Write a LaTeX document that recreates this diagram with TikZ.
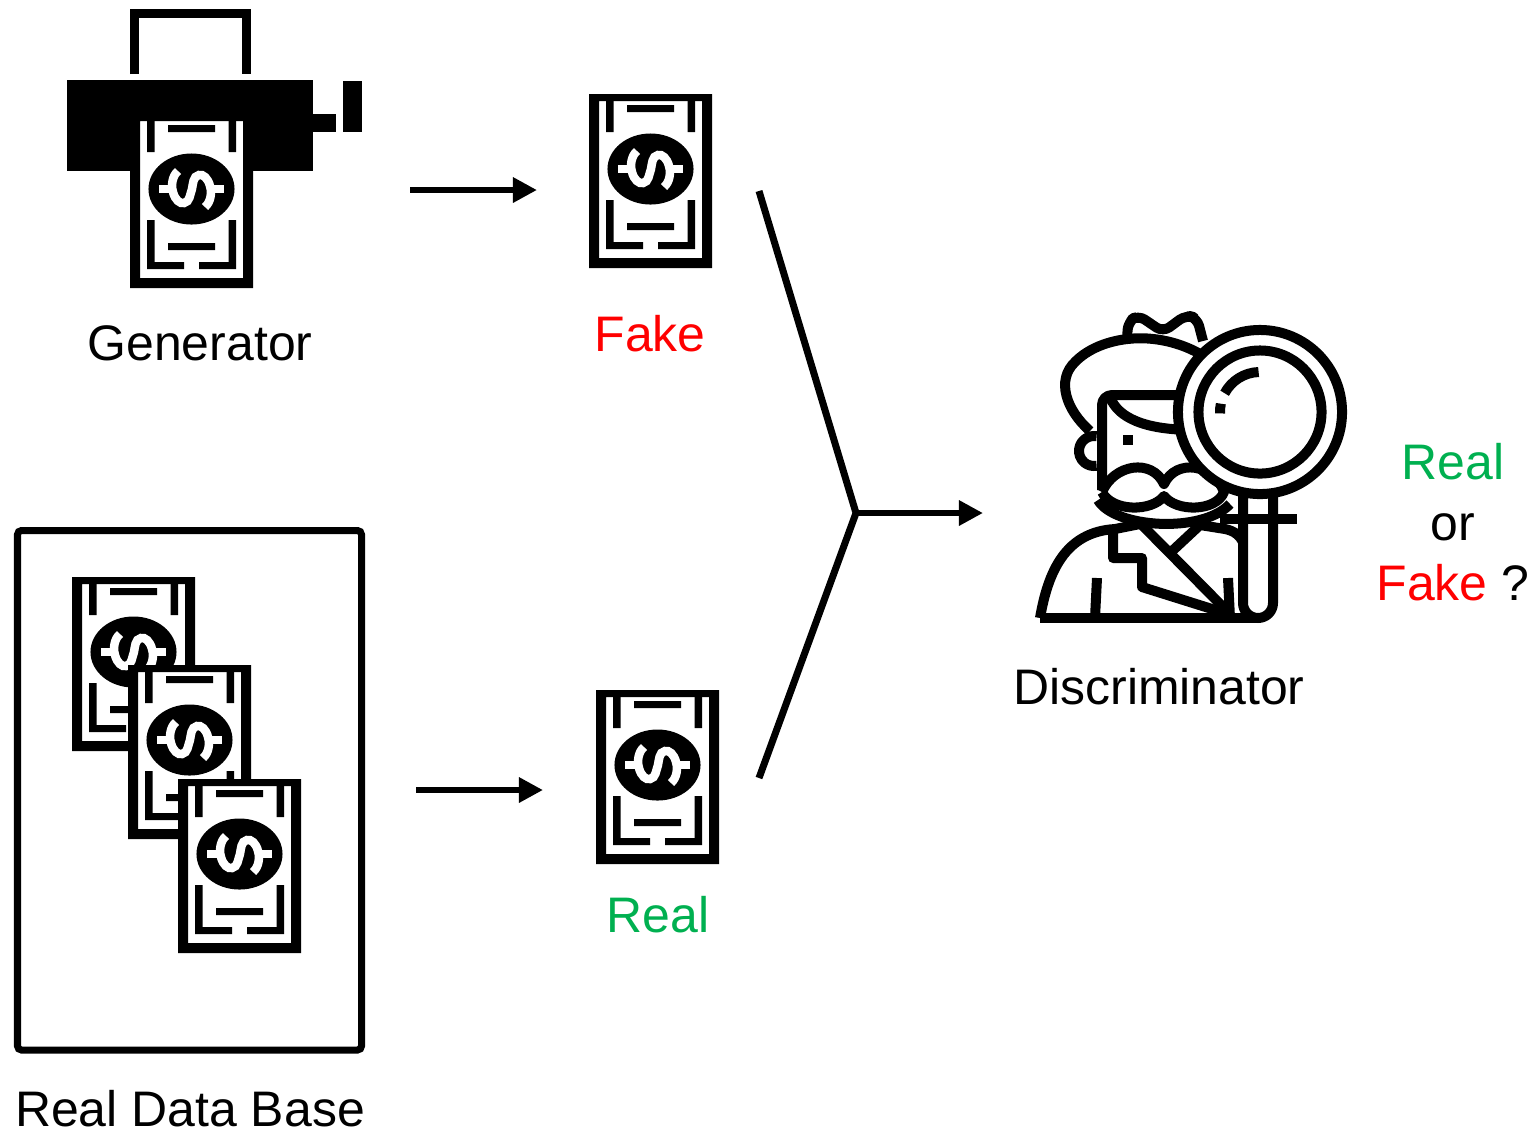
\documentclass[tikz,border=0pt]{standalone}
\usepackage{fontspec}
\setmainfont{Liberation Sans}
\usetikzlibrary{arrows.meta}

\definecolor{realgreen}{RGB}{0,176,80}
\definecolor{fakered}{RGB}{255,0,0}

\begin{document}
\begin{tikzpicture}[x=0.01cm, y=-0.01cm, >={Triangle[length=2.4mm,width=2.4mm]},
    lbl/.style={font=\fontsize{14.2}{17}\selectfont, inner sep=0pt, anchor=base},
    flow/.style={->, line width=0.65mm},
    icon/.style={line width=1mm, line cap=butt, line join=round},
    bill/.pic={
      \fill[white] (0,0) rectangle (123,174);
      \fill[even odd rule] (0,0) rectangle (123,174) (10,7) rectangle (113,164);
      \fill (17,7) rectangle (24.5,38) (98.5,7) rectangle (106,38);
      \fill (17,106) -- (17,155) -- (54,155) -- (54,148) -- (24.5,148) -- (24.5,106) -- cycle;
      \fill (106,106) -- (106,155) -- (69,155) -- (69,148) -- (98.5,148) -- (98.5,106) -- cycle;
      \fill (38,11) rectangle (85,18) (38,129) rectangle (85,136);
      \fill (61.5,75) ellipse [x radius=4.3mm, y radius=3.55mm];
      \draw[white, line width=0.85mm] (48,57) .. controls (42,62) and (41,72) .. (43,78)
        .. controls (45,86) and (50,90) .. (54,89) .. controls (60,88) and (60,80) .. (62,75)
        .. controls (63,70) and (63,62) .. (69,61) .. controls (73,60) and (78,64) .. (80,72)
        .. controls (82,78) and (81,88) .. (75,93);
      \draw[white, line width=0.8mm] (29,75) -- (43,75) (80,75) -- (94,75);
    }]
  \useasboundingbox (0,0) rectangle (1533,1132);

  % generator: printer with a bill coming out
  \draw[line width=0.9mm] (134.5,74) |- (246.5,13.5) -- (246.5,74);
  \fill (67,80) rectangle (313,171);
  \fill (313,114) rectangle (336,132);
  \fill (343,81) rectangle (362,132);
  \pic at (130,114) {bill};
  \node[lbl] (genlabel) at (200,360) {Generator};

  % real data base
  \draw[line width=0.7mm, rounded corners=0.4mm] (17.5,530.5) rectangle (361.5,1050);
  \pic at (72,577) {bill};
  \pic at (128,665) {bill};
  \pic at (178,779) {bill};
  \node[lbl] (dblabel) at (190,1126) {Real Data Base};

  % samples
  \pic at (589,94) {bill};
  \node[lbl, text=fakered] (fakelabel) at (650,351) {Fake};
  \pic at (596,690) {bill};
  \node[lbl, text=realgreen] (reallabel) at (658,932) {Real};

  \coordinate (gen-out) at (410,190);
  \coordinate (fake-in) at (537,190);
  \coordinate (db-out) at (416,790);
  \coordinate (real-in) at (543,790);
  \coordinate (fake-out) at (759,191);
  \coordinate (real-out) at (759,778);
  \coordinate (join) at (856,513);
  \coordinate (disc-in) at (983,513);
  \draw[flow] (gen-out) -- (fake-in);
  \draw[flow] (db-out) -- (real-in);
  \draw[line width=0.7mm, line join=miter] (fake-out) -- (join) -- (real-out);
  \draw[flow] (join) -- (disc-in);

  % discriminator: detective with magnifier
  \begin{scope}[shift={(1030,310)}, icon]
    % coat
    \draw (10,308) .. controls (18,262) and (35,222) .. (85,219) -- (110,214);
    \draw (10,308) -- (228,308);
    \draw (83,220) |- (112,248) -- (112,277) -- (198,304);
    \draw (110,213) -- (198,302);
    \draw (140,243) -- (170,215) -- (195,219) .. controls (205,221) and (210,226) .. (213,232);
    \draw (67,268) -- (65,308);
    \draw (198,268) -- (200,308);
    % head
    \draw (60,121) .. controls (36,100) and (26,70) .. (45,52) .. controls (70,26) and (130,16) .. (180,50);
    \draw[rounded corners=0.8mm] (97,31) -- (98,12) -- (108,5) -- (133,22) -- (156,5) -- (167,8) -- (173,31);
    \draw[rounded corners=1mm] (72,180) -- (72,85) -- (165,85);
    \draw (80,87) .. controls (88,108) and (115,120) .. (165,120);
    \draw (64,141) ++(80:1.5mm) arc[start angle=80, end angle=280, radius=1.5mm];
    \fill (93,125) rectangle (103,135);
    \draw (72,182) .. controls (84,154) and (122,148) .. (134,174) .. controls (146,148) and (184,154) .. (194,182)
          .. controls (186,202) and (146,202) .. (134,186) .. controls (122,202) and (82,202) .. (72,182);
    \draw (68,190) .. controls (84,218) and (172,224) .. (200,194);
    % magnifier
    \draw[fill=white, rounded corners=1.5mm] (213,170) -- (213,308) -- (243,308) -- (243,170);
    \draw (190,208.5) -- (267,208.5);
    \filldraw[fill=white] (230,102) circle[radius=8.2mm];
    \draw (230,102) circle[radius=6.15mm];
    \draw (230,102) ++(92:4mm) arc[start angle=92, end angle=152, radius=4mm];
    \draw (230,102) ++(168:4mm) arc[start angle=168, end angle=182, radius=4mm];
  \end{scope}
  \node[lbl] (disclabel) at (1159,704) {Discriminator};

  % verdict
  \node[lbl, text=realgreen] (ansreal) at (1453,479) {Real};
  \node[lbl] (ansor) at (1453,540) {or};
  \node[lbl] (ansfake) at (1453,600) {\textcolor{fakered}{Fake} ?};
\end{tikzpicture}
\end{document}
